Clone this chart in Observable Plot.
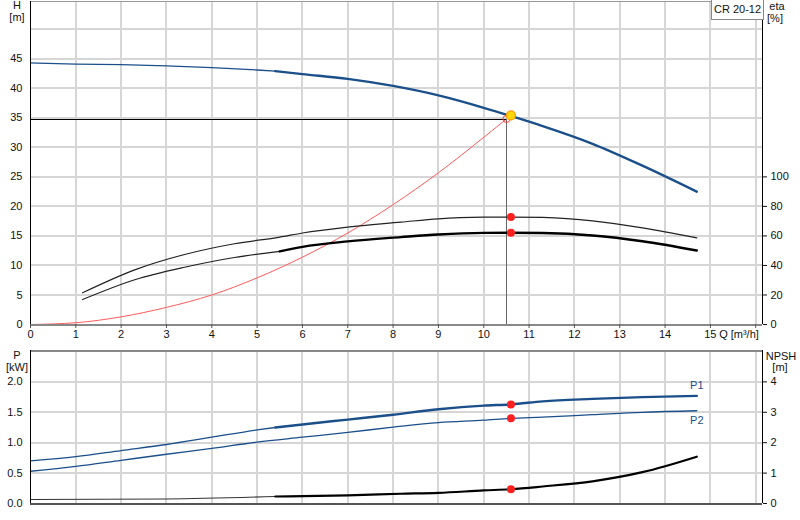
<!DOCTYPE html>
<html><head><meta charset="utf-8">
<script src="https://cdn.jsdelivr.net/npm/d3@7"></script>
<script src="https://cdn.jsdelivr.net/npm/@observablehq/plot@0.6"></script>
<style>
body{margin:0;background:#fff;font-family:"Liberation Sans",Arial,sans-serif;color:#111}
#wrap{position:relative;width:800px;height:520px;overflow:hidden}
#wrap svg{display:block}
.lbl{position:absolute;font-size:11px;line-height:12px;text-align:center;white-space:nowrap}
.box{position:absolute;left:711px;top:-1px;width:51px;height:19px;border:1px solid #888;font-size:11px;line-height:19px;text-align:center;background:#fff}
</style>
</head><body>
<div id="wrap"></div>
<script>
// ---- data ----
const xTicks = [0,1,2,3,4,5,6,7,8,9,10,11,12,13,14,15];
const hTicks = [0,5,10,15,20,25,30,35,40,45];
const etaTicks = [0,20,40,60,80,100];
const pTicks = [0,0.5,1.0,1.5,2.0];
const npshTicks = [0,1,2,3,4];

const qH = [0,1,2,3,4,5,5.4,6,7,8,9,10,10.6,11.3,12.4,13.5,14.7];
const H  = [44.3,44.1,44.0,43.8,43.5,43.1,42.9,42.4,41.6,40.4,38.8,36.7,35.3,33.6,30.6,26.9,22.5];

const qEta = [1.15,2.3,3.4,4.5,5.5,6,7,8.17,9,10,10.6,11.3,12.4,13.5,14.7];
const eta1 = [21.5,37,47.4,54.7,59.2,62,66,69.3,71.6,72.7,72.8,72.5,70.2,65.5,58.7];
const eta2 = [16.9,30.3,38.8,45.4,49.5,52.6,56.3,59.2,61,62.1,62.2,62,60.3,56.4,50.1];

const qSys = [0,1,2,3,4,5,6,7,8,9,10,10.5];
const hSys = [0,0.3,1.3,2.9,5.0,7.9,11.4,15.5,20.3,25.7,31.7,34.8];

const qP1 = [0,1,2,3,4,5,5.4,6,7,8,9,10,10.6,11.3,12.4,13.5,14.7];
const P1  = [0.70,0.77,0.87,0.97,1.09,1.21,1.25,1.30,1.38,1.46,1.55,1.61,1.63,1.68,1.72,1.75,1.77];
const qP2 = [0,1,2,3,4,5,6,7,8,9,10,10.6,11.3,12.4,13.5,14.7];
const P2  = [0.53,0.61,0.71,0.81,0.905,1.01,1.09,1.17,1.255,1.33,1.37,1.40,1.42,1.46,1.50,1.525];

const qNpsh = [0,3,5.4,7,8.17,9,10,10.6,11.3,12.4,13.5,14.7];
const npsh  = [0.13,0.15,0.23,0.27,0.32,0.35,0.43,0.47,0.56,0.73,1.03,1.54];

const dutyQ = 10.5, dutyH = 34.8;
const opQ = 10.6, opH = 35.4, opEta1 = 72.8, opEta2 = 62.2, opP1 = 1.63, opP2 = 1.40, opNpsh = 0.47;
const pumpName = "CR 20-12";

// ---- helpers ----
const rows = (qs, vs) => qs.map((q, i) => ({q, v: vs[i]}));
const split = 5.4;
const xMax = 16.15;
const BLUE = "#1b4f8a";
const GRID = "#d6d6d6";
const CR = "crispEdges";
const font = {fontSize: "11px", fontFamily: "'Liberation Sans', Arial, sans-serif", color: "#111", background: "transparent", overflow: "visible"};
const xDomain = [0, xMax];

const Hrows = rows(qH, H);
const e1 = rows(qEta, eta1), e2 = rows(qEta, eta2);
const sys = rows(qSys, hSys);

const chartTop = Plot.plot({
  width: 800, height: 345,
  marginLeft: 30, marginRight: 38, marginTop: 1, marginBottom: 21,
  style: font,
  x: {domain: xDomain},
  y: {domain: [0, 54.7]},
  marks: [
    Plot.ruleX(d3.range(1, 17), {stroke: GRID, strokeWidth: 2, shapeRendering: CR}),
    Plot.ruleY(d3.range(5, 55, 5), {stroke: GRID, strokeWidth: 2, shapeRendering: CR}),
    Plot.ruleY([54.7], {stroke: "#999", strokeWidth: 1, shapeRendering: CR}),
    Plot.line(sys, {x: "q", y: "v", stroke: "#ff5a5a", strokeWidth: 1, curve: "monotone-x"}),
    Plot.ruleY([dutyH], {x1: 0, x2: dutyQ, stroke: "#000", strokeWidth: 1, shapeRendering: CR}),
    Plot.ruleX([dutyQ], {y1: 0, y2: dutyH, stroke: "#666", strokeWidth: 1, shapeRendering: CR}),
    Plot.line(e1, {x: "q", y: d => d.v / 4, stroke: "#222", strokeWidth: 1.2, curve: "monotone-x"}),
    Plot.line(e2.filter(d => d.q <= split + 0.1), {x: "q", y: d => d.v / 4, stroke: "#222", strokeWidth: 1.2, curve: "monotone-x"}),
    Plot.line(e2.filter(d => d.q >= split), {x: "q", y: d => d.v / 4, stroke: "#000", strokeWidth: 2.4, curve: "monotone-x"}),
    Plot.line(Hrows.filter(d => d.q <= split), {x: "q", y: "v", stroke: BLUE, strokeWidth: 1.3, curve: "monotone-x"}),
    Plot.line(Hrows.filter(d => d.q >= split), {x: "q", y: "v", stroke: BLUE, strokeWidth: 2.4, curve: "monotone-x"}),
    Plot.ruleY([0], {stroke: "#888", strokeWidth: 2, shapeRendering: CR}),
    Plot.ruleX([0], {stroke: "#000", strokeWidth: 1.5, shapeRendering: CR}),
    Plot.ruleX([xMax], {stroke: "#000", strokeWidth: 1.5, shapeRendering: CR}),
    Plot.dot([{q: dutyQ, v: dutyH}], {x: "q", y: "v", r: 3.5, stroke: "#ff4040", fill: "none", strokeWidth: 1}),
    Plot.dot([{q: opQ, v: opH}], {x: "q", y: "v", r: 4.5, fill: "#ffd60a", stroke: "#ff9a00", strokeWidth: 1.2}),
    Plot.dot([{q: opQ, v: opEta1}, {q: opQ, v: opEta2}], {x: "q", y: d => d.v / 4, r: 4, fill: "#ff2020", stroke: "none"}),
    Plot.axisX({ticks: d3.range(0, 17), tickFormat: d => (d <= 15 ? d : ""), tickSize: 4, tickPadding: 2, stroke: "#555", label: null}),
    Plot.axisY({anchor: "left", ticks: hTicks, tickSize: 0, tickPadding: 8, label: null}),
    Plot.axisY({anchor: "right", ticks: etaTicks.map(e => e / 4), tickFormat: d => d * 4, tickSize: 4, tickPadding: 4, label: null})
  ]
});

const p1 = rows(qP1, P1), p2 = rows(qP2, P2), np = rows(qNpsh, npsh);
const chartBottom = Plot.plot({
  width: 800, height: 175,
  marginLeft: 30, marginRight: 38, marginTop: 5, marginBottom: 17,
  style: font,
  x: {domain: xDomain},
  y: {domain: [0, 2.516]},
  marks: [
    Plot.ruleX(d3.range(1, 17), {stroke: GRID, strokeWidth: 2, shapeRendering: CR}),
    Plot.ruleY([0.5, 1.0, 1.5, 2.0], {stroke: GRID, strokeWidth: 2, shapeRendering: CR}),
    Plot.ruleY([2.516], {stroke: "#888", strokeWidth: 2, shapeRendering: CR}),
    Plot.line(np.filter(d => d.q <= split), {x: "q", y: d => d.v / 2, stroke: "#333", strokeWidth: 1.1, curve: "monotone-x"}),
    Plot.line(np.filter(d => d.q >= split), {x: "q", y: d => d.v / 2, stroke: "#000", strokeWidth: 2.2, curve: "monotone-x"}),
    Plot.line(p2, {x: "q", y: "v", stroke: BLUE, strokeWidth: 1.3, curve: "monotone-x"}),
    Plot.line(p1.filter(d => d.q <= split), {x: "q", y: "v", stroke: BLUE, strokeWidth: 1.3, curve: "monotone-x"}),
    Plot.line(p1.filter(d => d.q >= split), {x: "q", y: "v", stroke: BLUE, strokeWidth: 2.4, curve: "monotone-x"}),
    Plot.text([p1[p1.length - 1]], {x: "q", y: "v", text: () => "P1", dy: -10, fill: BLUE, fontSize: 11}),
    Plot.text([p2[p2.length - 1]], {x: "q", y: "v", text: () => "P2", dy: 10, fill: BLUE, fontSize: 11}),
    Plot.dot([{q: opQ, v: opP1}, {q: opQ, v: opP2}], {x: "q", y: "v", r: 4, fill: "#ff2020", stroke: "none"}),
    Plot.dot([{q: opQ, v: opNpsh}], {x: "q", y: d => d.v / 2, r: 4, fill: "#ff2020", stroke: "none"}),
    Plot.ruleY([0], {stroke: "#555", strokeWidth: 2, shapeRendering: CR}),
    Plot.ruleX([0], {stroke: "#000", strokeWidth: 1.5, shapeRendering: CR}),
    Plot.ruleX([xMax], {stroke: "#000", strokeWidth: 1.5, shapeRendering: CR}),
    Plot.axisY({anchor: "left", ticks: pTicks, tickFormat: d => d.toFixed(1), tickSize: 0, tickPadding: 8, label: null}),
    Plot.axisY({anchor: "right", ticks: npshTicks.map(n => n / 2), tickFormat: d => d * 2, tickSize: 4, tickPadding: 4, label: null}),
    Plot.axisX({ticks: [], label: null, tickSize: 0})
  ]
});

const wrap = document.getElementById("wrap");
wrap.appendChild(chartTop);
wrap.appendChild(chartBottom);

function addLabel(text, left, topPx, width) {
  const d = document.createElement("div");
  d.className = "lbl";
  d.textContent = text;
  d.style.left = left + "px";
  d.style.top = topPx + "px";
  d.style.width = width + "px";
  wrap.appendChild(d);
}
addLabel("H", 6, -1, 22);
addLabel("[m]", 6, 11, 22);
addLabel("eta", 764, 0, 26);
addLabel("[%]", 764, 12, 22);
addLabel("Q [m\u00b3/h]", 718, 328, 42);
addLabel("P", 6, 349, 22);
addLabel("[kW]", 4, 361, 26);
addLabel("NPSH", 764, 350, 34);
addLabel("[m]", 769, 361, 22);
const box = document.createElement("div");
box.className = "box";
box.textContent = pumpName;
wrap.appendChild(box);
</script>
</body></html>
